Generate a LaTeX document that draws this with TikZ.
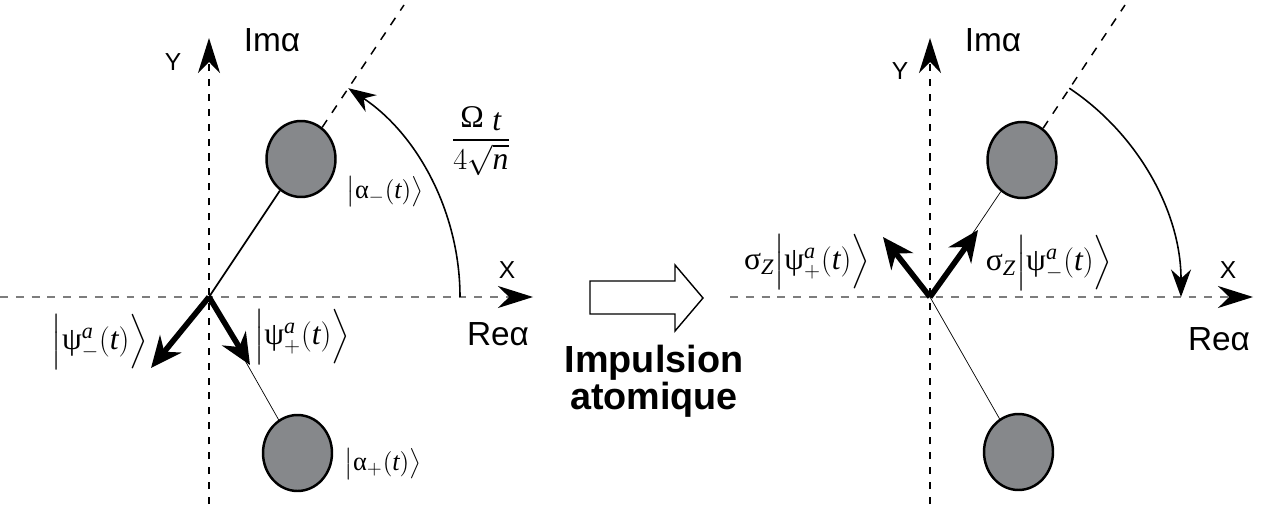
\documentclass[tikz,border=0pt]{standalone}
\usepackage{fontspec}
\setmainfont{Liberation Serif}
\setsansfont{Liberation Sans}
\usepackage{amsmath}
\usetikzlibrary{arrows.meta,shapes.geometric}
\definecolor{blobgray}{RGB}{134,136,139}
\definecolor{axisgray}{RGB}{125,125,125}

\begin{document}
\begin{tikzpicture}[x=0.02cm, y=0.02cm,
    head/.style={-{Stealth[length=0.7cm,width=0.44cm,inset=0.22cm,color=black]}},
    yaxis/.style={head, line width=1.1pt, dash pattern=on 4pt off 4.5pt},
    xaxis/.style={head, axisgray, line width=0.85pt, dash pattern=on 4.5pt off 4.5pt},
    ray/.style={line width=0.85pt, dash pattern=on 5pt off 5pt},
    blob/.style={ellipse, draw, line width=1.4pt, fill=blobgray,
                 minimum width=1.38cm, minimum height=1.52cm, inner sep=0pt},
    turn/.style={line width=0.9pt, -{Stealth[length=0.55cm,width=0.4cm,inset=0.18cm]}},
    spin/.style={line width=3.2pt, -{Stealth[length=0.62cm,width=0.55cm,inset=0.2cm]}},
    axlbl/.style={font=\sffamily\fontsize{14}{16}\selectfont},
    cplx/.style={font=\sffamily\fontsize{19}{21}\selectfont},
    ketlbl/.style={font=\fontsize{18}{20}\selectfont},
    cohlbl/.style={font=\fontsize{15}{17}\selectfont}
  ]
  \useasboundingbox (0,0) rectangle (1263,504);

  % left: before the pulse
  \coordinate (oL)  at (209,207);
  \coordinate (ybL) at (209,0);
  \coordinate (ytL) at (209,466);
  \coordinate (xbL) at (0,207);
  \coordinate (xtL) at (533,207);
  \coordinate (rayL) at (404,499);
  \draw[yaxis] (ybL) -- (ytL);
  \draw[xaxis] (xbL) -- (xtL);
  \node[blob] (cupL)  at (301,345) {};
  \node[blob] (clowL) at (297.5,51) {};
  \draw[ray] (cupL) -- (rayL);
  \draw[line width=1pt] (oL) -- (cupL);
  \draw[thin] (oL) -- (clowL);
  \draw[turn] (oL) ++(251,0) arc[start angle=0, end angle=56.3, radius=251];
  \coordinate (pmL) at (151,136);
  \coordinate (ppL) at (250,139);
  \draw[spin] (oL) -- (pmL);
  \draw[spin] (oL) -- (ppL);
  \node[axlbl] (ylblL) at (173,442) {Y};
  \node[cplx]  (imL)   at (272,464) {Imα};
  \node[axlbl] (xlblL) at (507,234) {X};
  \node[cplx]  (reL)   at (498,170) {Reα};
  \node[ketlbl] (angle) at (481,363) {$\dfrac{\text{Ω}\;\raisebox{-2pt}{\textit{t}}}{4\sqrt{\textit{n}}}$};
  \node[cohlbl] (amL) at (385,312) {$\bigl|\text{α}_{-}(\textit{t})\bigr\rangle$};
  \node[cohlbl] (apL) at (383,40)  {$\bigl|\text{α}_{+}(\textit{t})\bigr\rangle$};
  \node[ketlbl] (psimL) at (100,162) {$\Bigl|\text{ψ}^{\textit{a}}_{-}(\textit{t})\Bigr\rangle$};
  \node[ketlbl] (psipL) at (302,167) {$\Bigl|\text{ψ}^{\textit{a}}_{+}(\textit{t})\Bigr\rangle$};

  % the pulse
  \draw[line width=0.8pt] (590,223) -- (675,223) -- (675,239) -- (703,206)
    -- (675,173) -- (675,190) -- (590,190) -- cycle;
  \node[font=\sffamily\bfseries\fontsize{21.5}{21}\selectfont, align=center,
        anchor=north, inner sep=0pt] (pulse) at (654,159) {Impulsion\\atomique};

  % right: after the pulse
  \coordinate (oR)  at (930,207);
  \coordinate (ybR) at (930,0);
  \coordinate (ytR) at (930,466);
  \coordinate (xbR) at (730,207);
  \coordinate (xtR) at (1253,207);
  \coordinate (rayR) at (1125,499);
  \draw[yaxis] (ybR) -- (ytR);
  \draw[xaxis] (xbR) -- (xtR);
  \node[blob] (cupR)  at (1022,344) {};
  \node[blob] (clowR) at (1018.5,52) {};
  \draw[ray] (cupR) -- (rayR);
  \draw[thin] (oR) -- (cupR);
  \draw[thin] (oR) -- (clowR);
  \draw[turn] (oR) ++(56.3:251) arc[start angle=56.3, end angle=0, radius=251];
  \coordinate (ppR) at (883,267);
  \coordinate (pmR) at (978,274);
  \draw[spin] (oR) -- (ppR);
  \draw[spin] (oR) -- (pmR);
  \node[axlbl] (ylblR) at (900,433) {Y};
  \node[cplx]  (imR)   at (993,464) {Imα};
  \node[axlbl] (xlblR) at (1228,234) {X};
  \node[cplx]  (reR)   at (1219,165) {Reα};
  \node[ketlbl] (spR) at (807,242)  {$\text{σ}_{\textit{Z}}\Bigl|\text{ψ}^{\textit{a}}_{+}(\textit{t})\Bigr\rangle$};
  \node[ketlbl] (smR) at (1049,241) {$\text{σ}_{\textit{Z}}\Bigl|\text{ψ}^{\textit{a}}_{-}(\textit{t})\Bigr\rangle$};
\end{tikzpicture}
\end{document}
